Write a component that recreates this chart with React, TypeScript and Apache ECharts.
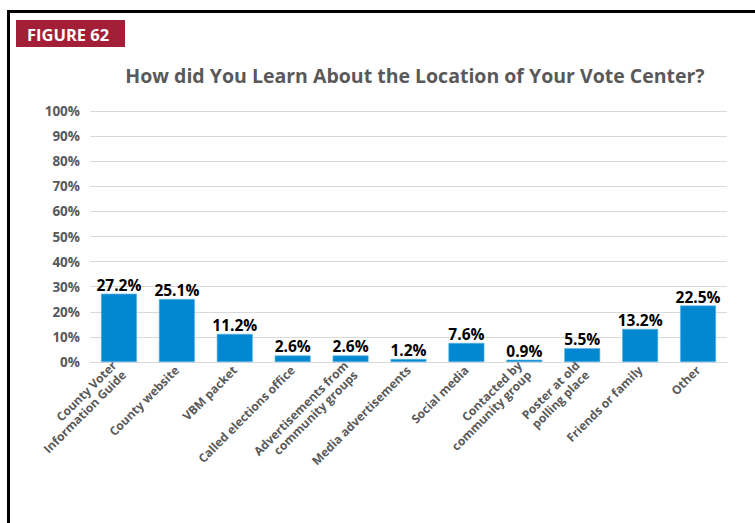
import React, { useEffect, useRef } from "react";
import * as echarts from "echarts";

const categories = [
  "County Voter\nInformation Guide",
  "County website",
  "VBM packet",
  "Called elections office",
  "Advertisements from\ncommunity groups",
  "Media advertisements",
  "Social media",
  "Contacted by\ncommunity group",
  "Poster at old\npolling place",
  "Friends or family",
  "Other",
];
const values = [27.2, 25.1, 11.2, 2.6, 2.6, 1.2, 7.6, 0.9, 5.5, 13.2, 22.5];
const figureLabel = "FIGURE 62";
const titleText = "How did You Learn About the Location of Your Vote Center?";

const FONT = "'Open Sans', 'Noto Sans', sans-serif";

export default function App() {
  const ref = useRef<HTMLDivElement>(null);
  useEffect(() => {
    document.body.style.margin = "0";
    const chart = echarts.init(ref.current!, undefined, { renderer: "svg" });
    chart.setOption({
      animation: false,
      backgroundColor: "#ffffff",
      title: {
        text: titleText,
        left: 410,
        top: 60,
        textAlign: "center",
        textStyle: { fontFamily: FONT, fontSize: 19.5, fontWeight: "bold", color: "#595959" },
      },
      graphic: [
        { type: "rect", shape: { x: 7, y: 10, width: 760, height: 3 }, style: { fill: "#000" } },
        { type: "rect", shape: { x: 7, y: 10, width: 3, height: 520 }, style: { fill: "#000" } },
        { type: "rect", shape: { x: 16, y: 20, width: 109, height: 27 }, style: { fill: "#A31F38" } },
        {
          type: "text",
          x: 27,
          y: 34,
          style: {
            text: figureLabel,
            fill: "#fff",
            font: `bold 16.5px ${FONT}`,
            textVerticalAlign: "middle",
          },
        },
      ],
      grid: { left: 90, right: 28, top: 111, bottom: 161 },
      xAxis: {
        type: "category",
        data: categories,
        axisLine: { lineStyle: { color: "#d9d9d9", width: 1 } },
        axisTick: { show: false },
        axisLabel: {
          rotate: 45,
          interval: 0,
          fontFamily: FONT,
          fontSize: 12,
          fontWeight: "bold",
          color: "#595959",
          lineHeight: 13.5,
          align: "right",
          margin: 6,
        },
      },
      yAxis: {
        type: "value",
        min: 0,
        max: 100,
        interval: 10,
        axisLine: { show: false },
        axisTick: { show: false },
        splitLine: { lineStyle: { color: "#d9d9d9", width: 1 } },
        axisLabel: {
          formatter: "{value}%",
          fontFamily: FONT,
          fontSize: 13.5,
          fontWeight: "bold",
          color: "#595959",
          margin: 10,
        },
      },
      series: [
        {
          type: "bar",
          data: values,
          barCategoryGap: "38%",
          itemStyle: { color: "#0288D1", borderColor: "#5DB3E6", borderWidth: 0.6 },
          label: {
            show: true,
            position: "top",
            formatter: "{c}%",
            fontFamily: FONT,
            fontSize: 15.5,
            fontWeight: "bold",
            color: "#000",
            distance: 1,
          },
        },
      ],
    });
    return () => chart.dispose();
  }, []);
  return <div ref={ref} style={{ width: 755, height: 523 }} />;
}
